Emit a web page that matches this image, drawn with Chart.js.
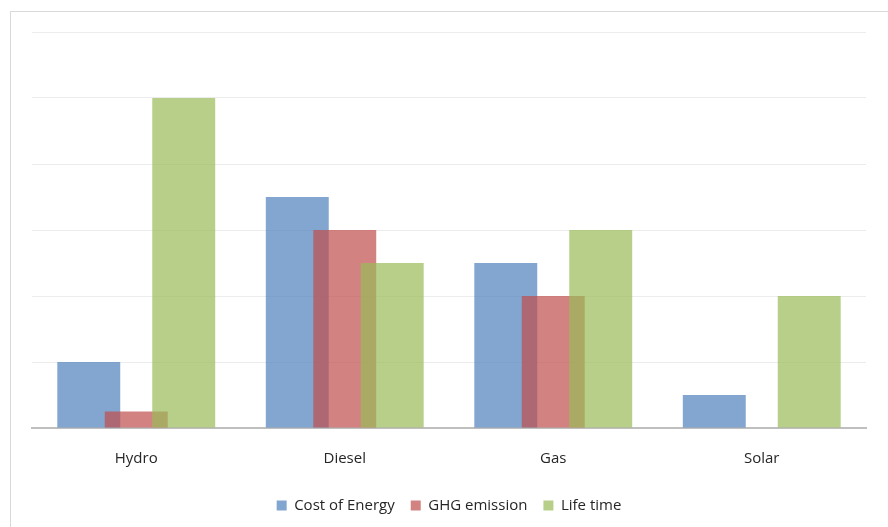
<!DOCTYPE html>
<html lang="en">
<head>
<meta charset="UTF-8">
<title>Energy sources</title>
<script src="https://cdn.jsdelivr.net/npm/chart.js"></script>
<style>
    html, body { margin: 0; padding: 0; background: #fff; overflow: hidden; }
    .tela { position: relative; width: 888px; height: 527px; }
    .moldura {
        position: absolute; left: 10px; top: 11px; width: 900px; height: 540px;
        border: 1px solid #d9d9d9; box-sizing: border-box;
    }
    #myChart { position: absolute; left: 0; top: 0; }
</style>
</head>
<body>
<div class="tela">
    <div class="moldura"></div>
    <canvas id="myChart" width="888" height="527"></canvas>
</div>

<script>
// dados
const categorias = ['Hydro', 'Diesel', 'Gas', 'Solar'];
const custoEnergia = [1, 3.5, 2.5, 0.5];
const emissaoGHG = [0.25, 3, 2, 0];
const vidaUtil = [5, 2.5, 3, 2];

const fonte = "'Open Sans', 'Liberation Sans', sans-serif";

const dados = {
    labels: categorias,
    datasets: [{
        label: 'Cost of Energy',
        data: custoEnergia,
        backgroundColor: 'rgba(79,129,189,0.71)'
    }, {
        label: 'GHG emission',
        data: emissaoGHG,
        backgroundColor: 'rgba(192,80,77,0.71)'
    }, {
        label: 'Life time',
        data: vidaUtil,
        backgroundColor: 'rgba(155,187,89,0.71)'
    }]
};

// desenha as series na ordem normal (a seguinte fica por cima)
const ordemDesenho = {
    id: 'ordemDesenho',
    beforeDatasetsDraw(chart) {
        for (let i = 0; i < chart.data.datasets.length; i++) {
            chart.getDatasetMeta(i).controller.draw();
        }
        return false;
    }
};

const config = {
    type: 'bar',
    data: dados,
    plugins: [ordemDesenho],
    options: {
        responsive: false,
        animation: false,
        categoryPercentage: 0.683,
        barPercentage: 1.326,
        layout: { padding: { left: 32, right: 22, top: 32, bottom: 4 } },
        plugins: {
            legend: {
                position: 'bottom',
                labels: {
                    boxWidth: 10, boxHeight: 10, padding: 16,
                    color: '#262626',
                    font: { family: fonte, size: 15 }
                }
            },
            tooltip: { enabled: false }
        },
        scales: {
            x: {
                grid: { display: false },
                border: { color: '#bfbfbf', width: 2 },
                ticks: { color: '#262626', padding: 14, font: { family: fonte, size: 15 } }
            },
            y: {
                min: 0, max: 6,
                ticks: { display: false, stepSize: 1 },
                border: { display: false },
                grid: { color: '#ececec', drawTicks: false }
            }
        }
    }
};

let myChart = new Chart(document.getElementById('myChart'), config);
</script>
</body>
</html>
